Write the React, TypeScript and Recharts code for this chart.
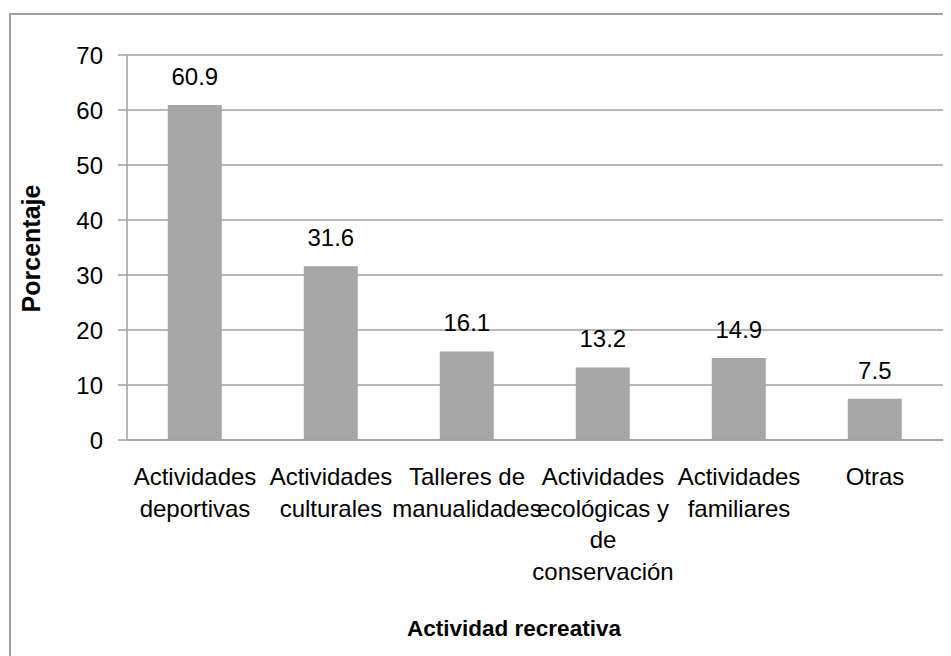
import React from "react";
import { BarChart, Bar, XAxis, YAxis, CartesianGrid, LabelList, Label } from "recharts";

const categories = [
  "Actividades\ndeportivas",
  "Actividades\nculturales",
  "Talleres de\nmanualidades",
  "Actividades\necológicas y\nde\nconservación",
  "Actividades\nfamiliares",
  "Otras",
];
const values = [60.9, 31.6, 16.1, 13.2, 14.9, 7.5];
const yTicks = [0, 10, 20, 30, 40, 50, 60, 70];
const xTitle = "Actividad recreativa";
const yTitle = "Porcentaje";

const data = categories.map((c, i) => ({ name: c, value: values[i] }));

const FONT = "'Liberation Sans', Arial, sans-serif";
const GRID = "#a0a0a0";
const BAR = "#a6a6a6";

const XTick = (props: any) => {
  const { x, y, payload } = props;
  const lines = String(payload.value).split("\n");
  return (
    <g>
      {lines.map((l: string, i: number) => (
        <text
          key={i}
          x={x}
          y={y + 45 + i * 31.7}
          textAnchor="middle"
          fontSize={24}
          fontFamily={FONT}
          fill="#000"
        >
          {l}
        </text>
      ))}
    </g>
  );
};

export default function App() {
  return (
    <div style={{ position: "relative", width: 943, height: 648, overflow: "hidden", background: "#fff" }}>
      <div
        style={{
          position: "absolute",
          left: 1,
          top: 5,
          width: 1000,
          height: 700,
          border: `2px solid ${GRID}`,
          boxSizing: "border-box",
        }}
      />
      <div style={{ position: "absolute", left: 0, top: 0 }}>
        <BarChart
          width={943}
          height={648}
          data={data}
          margin={{ top: 47, right: 8, bottom: 186, left: 0 }}
          barCategoryGap="30%"
        >
          <CartesianGrid horizontal vertical={false} stroke={GRID} strokeWidth={1.5} />
          <XAxis
            dataKey="name"
            height={30}
            tickLine={false}
            tickSize={0}
            tickMargin={0}
            interval={0}
            axisLine={{ stroke: GRID, strokeWidth: 1.5 }}
            tick={<XTick />}
          >
            <Label
              content={(p: any) => {
                const vb = p.viewBox || {};
                return (
                  <text
                    x={vb.x + vb.width / 2 - 21}
                    y={vb.y + 196}
                    textAnchor="middle"
                    fontSize={22.5}
                    fontWeight="bold"
                    fontFamily={FONT}
                    fill="#000"
                  >
                    {xTitle}
                  </text>
                );
              }}
            />
          </XAxis>
          <YAxis
            width={119}
            domain={[0, 70]}
            ticks={yTicks}
            interval={0}
            tickSize={9}
            tickMargin={15}
            tickLine={{ stroke: GRID, strokeWidth: 1.5 }}
            axisLine={{ stroke: GRID, strokeWidth: 1.5 }}
            tick={{ fontSize: 24, fontFamily: FONT, fill: "#000" }}
          >
            <Label
              content={(p: any) => {
                const vb = p.viewBox || {};
                const cx = 23;
                const cy = vb.y + vb.height / 2 + 1;
                return (
                  <text
                    x={cx}
                    y={cy}
                    transform={`rotate(-90 ${cx} ${cy})`}
                    textAnchor="middle"
                    dominantBaseline="central"
                    fontSize={25}
                    fontWeight="bold"
                    fontFamily={FONT}
                    fill="#000"
                  >
                    {yTitle}
                  </text>
                );
              }}
            />
          </YAxis>
          <Bar dataKey="value" fill={BAR} isAnimationActive={false}>
            <LabelList
              dataKey="value"
              position="top"
              offset={20}
              fontSize={24}
              fontFamily={FONT}
              fill="#000"
              formatter={(v: any) => Number(v).toFixed(1)}
            />
          </Bar>
        </BarChart>
      </div>
    </div>
  );
}
